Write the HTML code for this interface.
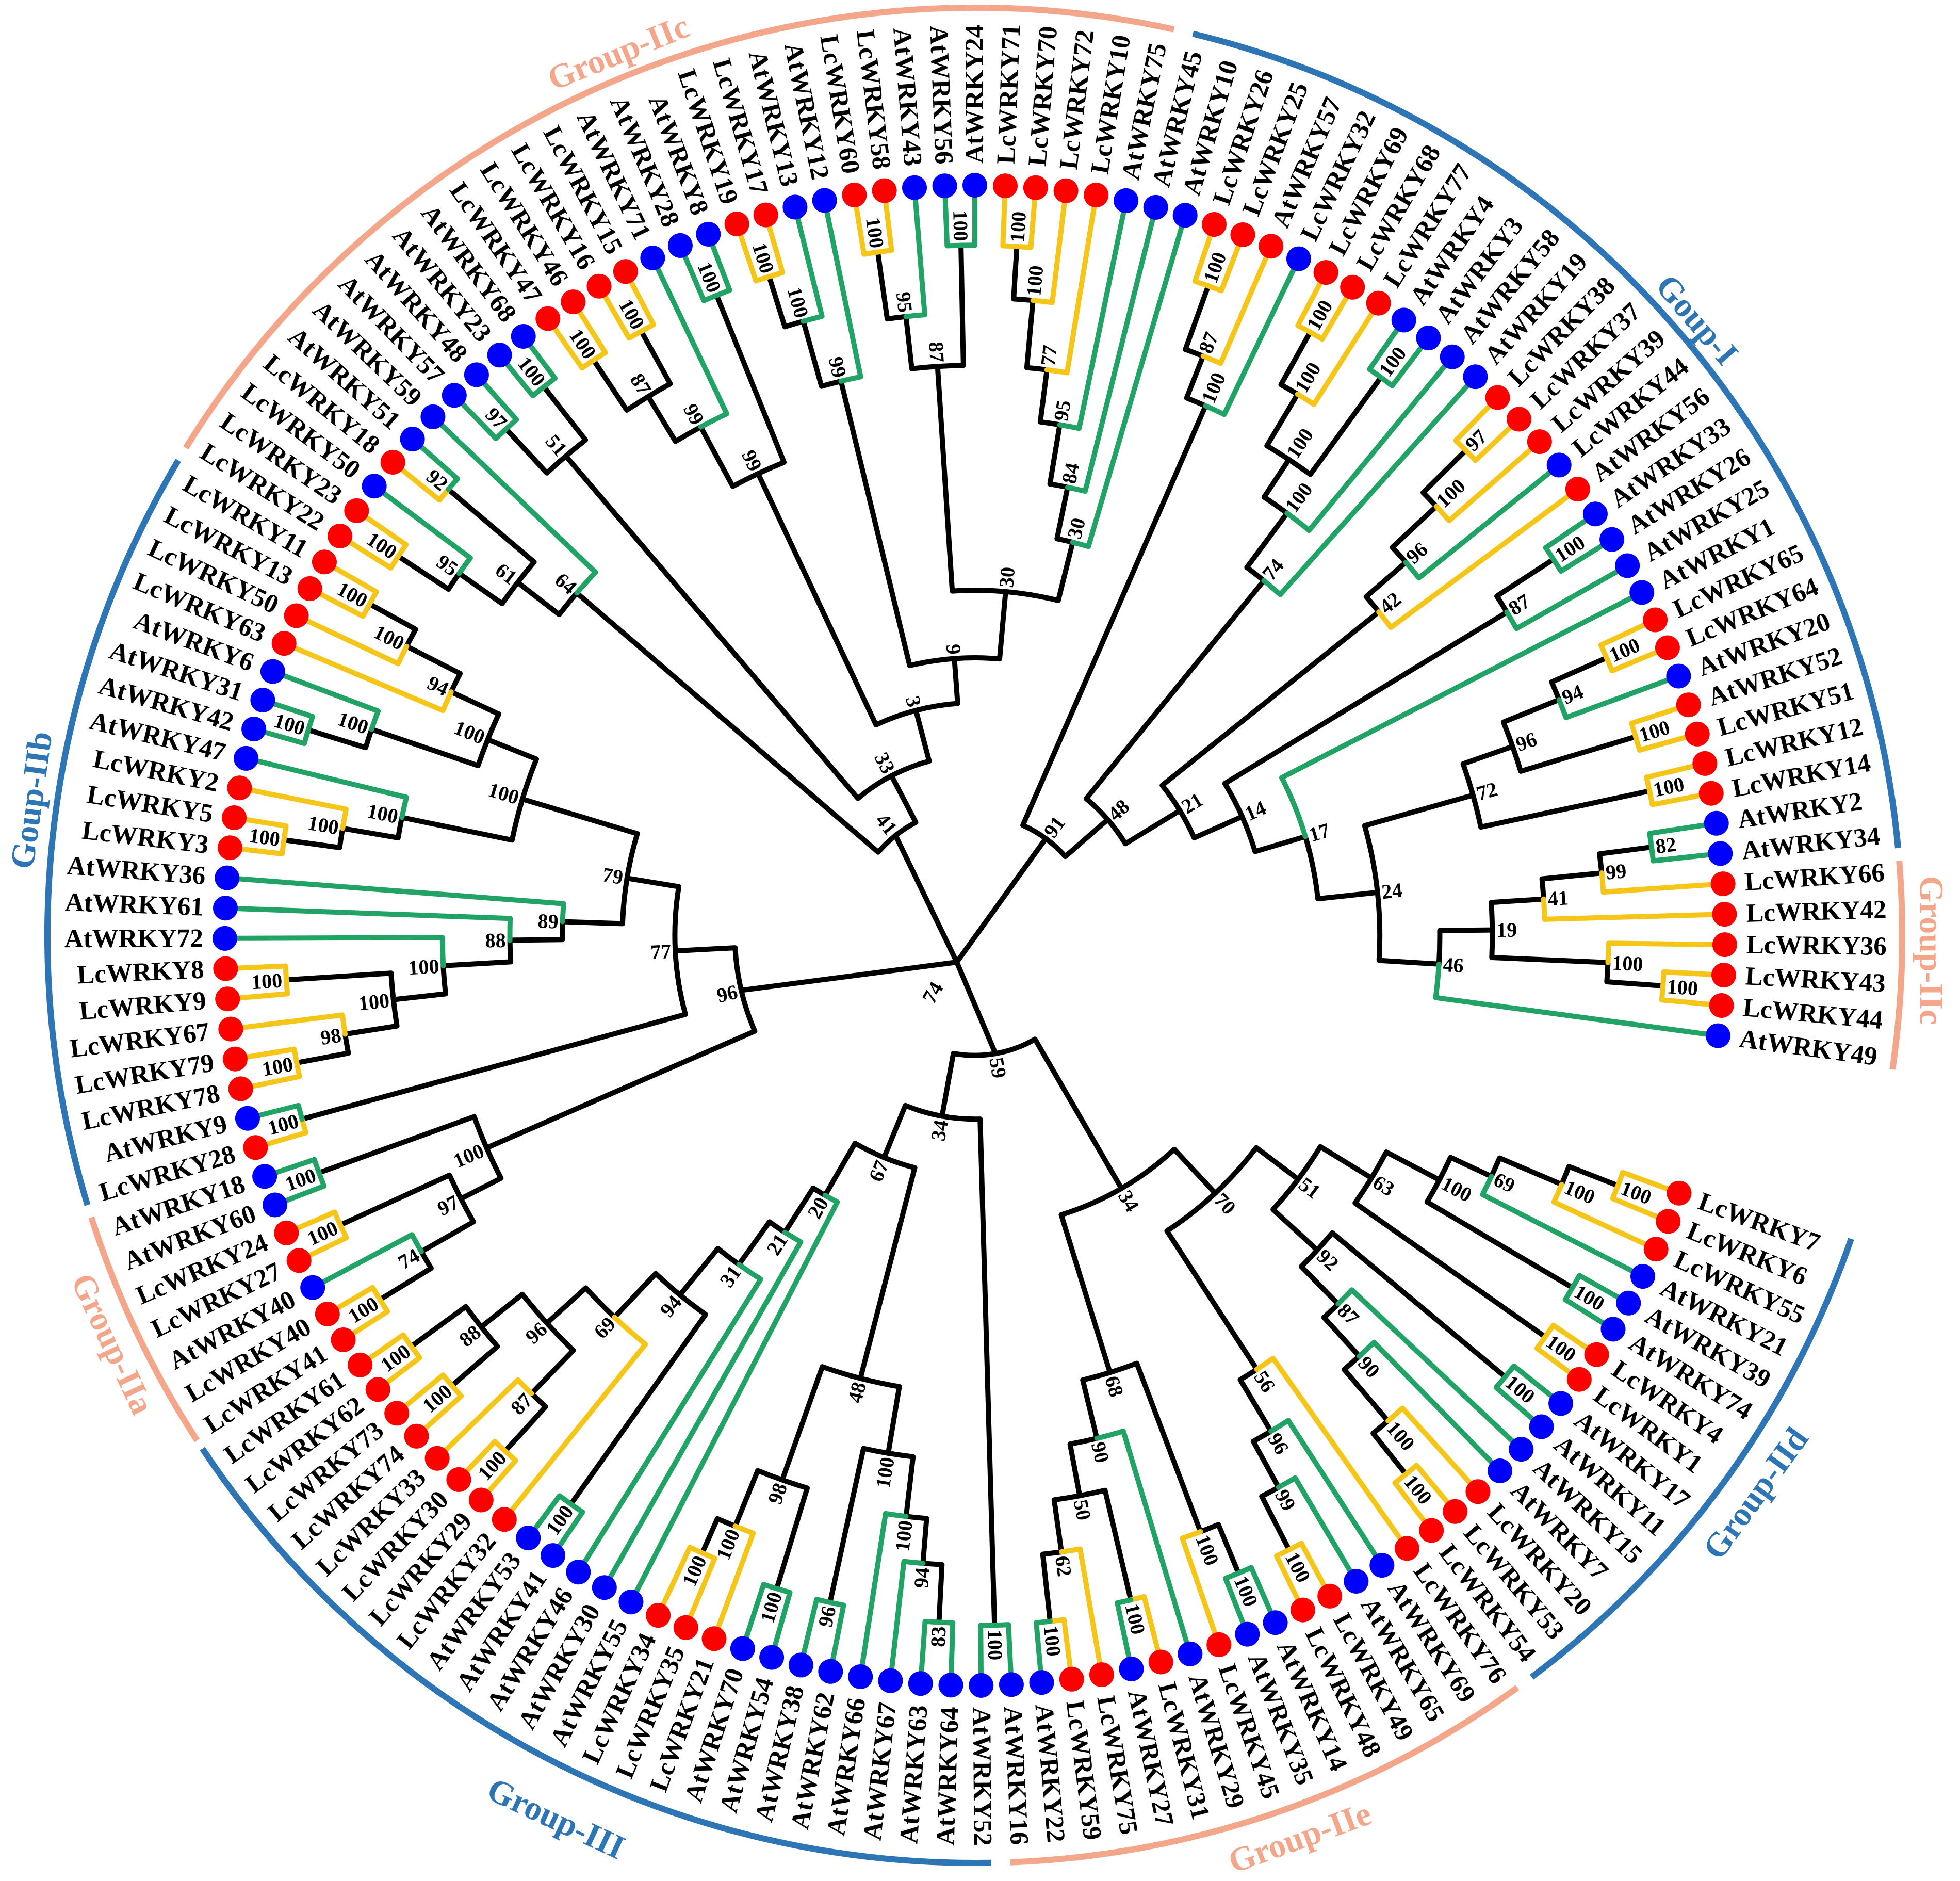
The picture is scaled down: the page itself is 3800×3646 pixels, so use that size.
<!DOCTYPE html>
<html><head><meta charset="utf-8">
<style>
html,body{margin:0;padding:0;background:#fff;}
svg{display:block;}
text{font-family:"Liberation Serif",serif;font-weight:bold;}
</style></head>
<body>
<svg id="s" xmlns="http://www.w3.org/2000/svg" width="3800" height="3646" viewBox="0 0 3800 3646">
<rect width="3800" height="3646" fill="#fff"/>
<g id="arcs" fill="none" stroke-width="12"></g>
<g id="tree" fill="none" stroke-width="10" stroke-linecap="round" stroke-linejoin="round"></g>
<g id="dots"></g>
<g id="blabels" font-size="40" fill="#000"></g>
<g id="llabels" font-size="51" fill="#000"></g>
<g id="glabels" font-size="66">
<text transform="translate(1199,102) rotate(-22)" text-anchor="middle" dominant-baseline="central" fill="#f4a68a">Group-IIc</text>
<text transform="translate(3290,620) rotate(49.5)" text-anchor="middle" dominant-baseline="central" fill="#2e75b6">Goup-I</text>
<text transform="translate(3744,1842) rotate(90)" text-anchor="middle" dominant-baseline="central" fill="#f4a68a">Group-IIc</text>
<text transform="translate(3404,2895) rotate(-54)" text-anchor="middle" dominant-baseline="central" fill="#2e75b6">Group-IId</text>
<text transform="translate(2520,3562) rotate(-20)" text-anchor="middle" dominant-baseline="central" fill="#f4a68a">Group-IIe</text>
<text transform="translate(1078,3525) rotate(25)" text-anchor="middle" dominant-baseline="central" fill="#2e75b6">Group-III</text>
<text transform="translate(218,2605) rotate(65)" text-anchor="middle" dominant-baseline="central" fill="#f4a68a">Group-IIa</text>
<text transform="translate(61,1551) rotate(-82)" text-anchor="middle" dominant-baseline="central" fill="#2e75b6">Goup-IIb</text>
<text transform="translate(1808,1924) rotate(-60)" text-anchor="middle" dominant-baseline="central" font-size="40" fill="#000">74</text>
</g>
</svg>
<script>
(function(){
const CX=1890,CY=1813,R=1454,YEL="#f5c518",GRN="#21a366";
const names=["LcWRKY7","LcWRKY6","LcWRKY55","AtWRKY21","AtWRKY39","AtWRKY74","LcWRKY4","LcWRKY1","AtWRKY17","AtWRKY11","AtWRKY15","AtWRKY7","LcWRKY20","LcWRKY53","LcWRKY54","LcWRKY76","AtWRKY69","AtWRKY65","LcWRKY49","LcWRKY48","AtWRKY14","AtWRKY35","LcWRKY45","AtWRKY29","LcWRKY31","AtWRKY27","LcWRKY75","LcWRKY59","AtWRKY22","AtWRKY16","AtWRKY52",
"AtWRKY64","AtWRKY63","AtWRKY67","AtWRKY66","AtWRKY62","AtWRKY38","AtWRKY54","AtWRKY70","LcWRKY21","LcWRKY35","LcWRKY34","AtWRKY55","AtWRKY30","AtWRKY46","AtWRKY41","AtWRKY53","LcWRKY32","LcWRKY29","LcWRKY30","LcWRKY33","LcWRKY74","LcWRKY73","LcWRKY62","LcWRKY61","LcWRKY41","LcWRKY40","AtWRKY40","LcWRKY27","LcWRKY24","AtWRKY60","AtWRKY18","LcWRKY28","AtWRKY9","LcWRKY78","LcWRKY79","LcWRKY67","LcWRKY9","LcWRKY8","AtWRKY72",
"AtWRKY61","AtWRKY36","LcWRKY3","LcWRKY5","LcWRKY2","AtWRKY47","AtWRKY42","AtWRKY31","AtWRKY6","LcWRKY63","LcWRKY50","LcWRKY13","LcWRKY11","LcWRKY22","LcWRKY23","LcWRKY50","LcWRKY18","AtWRKY51","AtWRKY59","AtWRKY57","AtWRKY48","AtWRKY23","AtWRKY68","LcWRKY47","LcWRKY46","LcWRKY16","LcWRKY15","AtWRKY71","AtWRKY28","AtWRKY8","LcWRKY19","LcWRKY17","AtWRKY13","AtWRKY12","LcWRKY60","LcWRKY58","AtWRKY43","AtWRKY56","AtWRKY24",
"LcWRKY71","LcWRKY70","LcWRKY72","LcWRKY10","AtWRKY75","AtWRKY45","AtWRKY10","LcWRKY26","LcWRKY25","AtWRKY57","LcWRKY32","LcWRKY69","LcWRKY68","LcWRKY77","AtWRKY4","AtWRKY3","AtWRKY58","AtWRKY19","LcWRKY38","LcWRKY37","LcWRKY39","LcWRKY44","AtWRKY56","AtWRKY33","AtWRKY26","AtWRKY25","AtWRKY1","LcWRKY65","LcWRKY64","AtWRKY20","AtWRKY52","LcWRKY51","LcWRKY12","LcWRKY14","AtWRKY2","AtWRKY34","LcWRKY66","LcWRKY42","LcWRKY36","LcWRKY43","LcWRKY44","AtWRKY49"];
const C=("RRRBBBRRBBBBRRRRBBRRBBRBRBRRBBB"+"BBBBBBBBRRRBBBBB"+"RRRRRRRR"+"RRBRRBBRBRRRRRB"+"BBRRRBBBBRRRRRRBRBBBBBBRRRRBBBRRBBRRBBB"+"RRRRBBBRRRBRRRBBBBRRRBRBBBBRRBRRRRBBRRRRRB").split("");
function A(i){return i<=107?20.1+i*2.314:270+(i-108)*2.326;}
function P(r,a){const t=a*Math.PI/180;return [CX+r*Math.cos(t),CY+r*Math.sin(t)];}
function s(p){return p[0].toFixed(1)+","+p[1].toFixed(1);}
function N(r,b,...c){return {r,b,c};}
const n69=N(.76,'69',N(.85,'100',N(.92,'100',0,1),2),3);
const n100a=N(.70,'100',n69,N(.925,'100',4,5));
const n63=N(.62,'63',n100a,N(.93,'100',6,7));
const n100b=N(.85,'100',12,N(.92,'100',13,14));
const n90=N(.76,'90',11,n100b);
const n87=N(.69,'87',10,n90);
const n92=N(.62,'92',N(.92,'100',8,9),n87);
const n51=N(.54,'51',n63,n92);
const n99=N(.84,'99',17,N(.92,'100',18,19));
const n96=N(.77,'96',16,n99);
const n56=N(.69,'56',15,n96);
const n70=N(.47,'70',n51,n56);
const ny100=N(.85,'100',N(.92,'100',20,21),22);
const n62=N(.83,'62',26,N(.92,'100',27,28));
const n50=N(.76,'50',N(.91,'100',24,25),n62);
const n90b=N(.69,'90',23,n50);
const n68=N(.61,'68',ny100,n90b);
const n34a=N(.39,'34',n70,n68);
const n94=N(.84,'94',33,N(.917,'83',31,32));
const n100c=N(.78,'100',34,n94);
const n100d=N(.70,'100',N(.91,'96',35,36),n100c);
const n100e=N(.85,'100',39,N(.90,'100',40,41));
const n98=N(.77,'98',N(.91,'100',37,38),n100e);
const n48=N(.61,'48',n100d,n98);
const n87b=N(.85,'87',N(.93,'100',48,49),50);
const n88=N(.84,'88',N(.92,'100',51,52),N(.93,'100',53,54));
const n96b=N(.77,'96',n87b,n88);
const n69b=N(.70,'69',47,n96b);
const n94b=N(.62,'94',N(.93,'100',45,46),n69b);
const n31=N(.54,'31',44,n94b);
const n21=N(.47,'21',43,n31);
const n20=N(.40,'20',42,n21);
const n67=N(.32,'67',n48,n20);
const n34b=N(.245,'34',N(.92,'100',29,30),n67);
const n59=N(.16,'59',n34a,n34b);
const n74=N(.85,'74',57,N(.93,'100',55,56));
const n97=N(.77,'97',n74,N(.93,'100',58,59));
const n100f=N(.71,'100',n97,N(.93,'100',60,61));
const n98b=N(.85,'98',66,N(.92,'100',64,65));
const n100g=N(.78,'100',n98b,N(.92,'100',67,68));
const n100h=N(.71,'100',n100g,69);
const n88b=N(.62,'88',n100h,70);
const n89=N(.55,'89',n88b,71);
const n100i=N(.855,'100',N(.93,'100',72,73),74);
const n100j=N(.78,'100',n100i,75);
const n100k=N(.85,'100',N(.93,'100',76,77),78);
const n100l=N(.85,'100',80,N(.92,'100',81,82));
const n94c=N(.77,'94',79,n100l);
const n100m=N(.70,'100',n100k,n94c);
const n100n=N(.63,'100',n100j,n100m);
const n79=N(.47,'79',n89,n100n);
const n77=N(.40,'77',N(.93,'100',62,63),n79);
const n96c=N(.32,'96',n100f,n77);
const n95=N(.84,'95',N(.92,'100',83,84),85);
const n61=N(.77,'61',n95,N(.92,'92',86,87));
const n64=N(.70,'64',n61,88);
const n51b=N(.84,'51',N(.92,'97',89,90),N(.93,'100',91,92));
const n87c=N(.84,'87',N(.92,'100',93,94),N(.92,'100',95,96));
const n99b=N(.77,'99',n87c,97);
const n99c=N(.68,'99',n99b,N(.92,'100',98,99));
const n100o=N(.85,'100',N(.92,'100',100,101),102);
const n99d=N(.76,'99',n100o,103);
const n95b=N(.83,'95',N(.92,'100',104,105),106);
const n87d=N(.76,'87',n95b,N(.92,'100',107,108));
const n100p=N(.85,'100',N(.92,'100',109,110),111);
const n77b=N(.76,'77',n100p,112);
const n95c=N(.69,'95',n77b,113);
const n84=N(.61,'84',n95c,114);
const n30=N(.54,'30',n84,115);
const n30b=N(.46,'30',n87d,n30);
const n9=N(.37,'9',n99d,n30b);
const n3=N(.31,'3',n99c,n9);
const n33=N(.24,'33',n51b,n3);
const n41=N(.17,'41',n64,n33);
const n87e=N(.83,'87',N(.92,'100',116,117),118);
const n100q=N(.77,'100',n87e,119);
const n100r=N(.84,'100',N(.92,'100',120,121),122);
const n100s=N(.76,'100',n100r,N(.92,'100',123,124));
const n100t=N(.70,'100',n100s,125);
const n74b=N(.61,'74',n100t,126);
const n100u=N(.84,'100',N(.92,'97',127,128),129);
const n96d=N(.76,'96',n100u,130);
const n42=N(.69,'42',n96d,131);
const n87f=N(.83,'87',N(.92,'100',132,133),134);
const n94d=N(.84,'94',N(.92,'100',136,137),138);
const n96e=N(.76,'96',n94d,N(.92,'100',139,140));
const n72=N(.69,'72',n96e,N(.92,'100',141,142));
const n99e=N(.84,'99',N(.91,'82',143,144),145);
const n41b=N(.76,'41',n99e,146);
const n100v=N(.845,'100',147,N(.92,'100',148,149));
const n19=N(.69,'19',n41b,n100v);
const n46=N(.62,'46',n19,150);
const n24=N(.54,'24',n72,n46);
const n17=N(.46,'17',135,n24);
const n14=N(.39,'14',n87f,n17);
const n21b=N(.32,'21',n42,n14);
const n48b=N(.235,'48',n74b,n21b);
const n91=N(.16,'91',n100q,n48b);
const roots=[n41,n91,n96c,n59];

function ang(x){return typeof x==='number'?A(x):x.a;}
function layout(n){n.c.forEach(ch=>{if(typeof ch!=='number')layout(ch);});
 const as=n.c.map(ang);n.a=(Math.min(...as)+Math.max(...as))/2;}
roots.forEach(layout);

const paths=[],bl=[];
function lab(r,a,txt){
 const p=P(r,a);let na=((a%360)+360)%360;
 const left=na>90&&na<270;
 const rot=left?na-180:na;
 return `<text transform="translate(${s(p)}) rotate(${rot.toFixed(2)})" text-anchor="${left?'end':'start'}" dominant-baseline="central">${txt}</text>`;
}
function draw(n){
 const rr=n.r*R;
 n.c.forEach(ch=>{
  const leaf=typeof ch==='number';
  const ca=leaf?A(ch):ch.a, cr=leaf?R:ch.r*R;
  const col=leaf?(C[ch]==='R'?YEL:GRN):'#000';
  const p0=P(rr,n.a),p1=P(rr,ca),p2=P(cr,ca);
  const sw=ca>n.a?1:0;
  paths.push(`<path d="M${s(p0)} A${rr.toFixed(1)} ${rr.toFixed(1)} 0 0 ${sw} ${s(p1)} L${s(p2)}" stroke="${col}"/>`);
  if(!leaf)draw(ch);
 });
 bl.push(lab(rr+8,n.a,n.b));
}
const RX=1855,RY=1865;
roots.forEach(n=>{const p=P(n.r*R,n.a);paths.push(`<path d="M${RX},${RY} L${s(p)}" stroke="#000"/>`);});
roots.forEach(draw);
paths.sort((a,b)=>(a.indexOf('#000')>=0?0:1)-(b.indexOf('#000')>=0?0:1));
document.getElementById('tree').innerHTML=paths.join('');
document.getElementById('blabels').innerHTML=bl.join('');
let d='',ll='';
for(let i=0;i<151;i++){const p=P(R,A(i));
 d+=`<circle cx="${p[0].toFixed(1)}" cy="${p[1].toFixed(1)}" r="24" fill="${C[i]==='R'?'#ff0000':'#0000ff'}"/>`;
 ll+=lab(R+42,A(i),names[i]);}
document.getElementById('dots').innerHTML=d;
document.getElementById('llabels').innerHTML=ll;
const RA=1798;
const arcs=[[211.7,282.4,'#f4a68a'],[283.6,354.6,'#2e75b6'],[355.4,368.3,'#f4a68a'],[19.1,53.1,'#2e75b6'],[54.2,87.8,'#f4a68a'],[89,146.4,'#2e75b6'],[147,162.3,'#f4a68a'],[163.1,210.8,'#2e75b6']];
let ah='';
arcs.forEach(a=>{const p0=P(RA,a[0]),p1=P(RA,a[1]);
 ah+=`<path d="M${s(p0)} A${RA} ${RA} 0 ${a[1]-a[0]>180?1:0} 1 ${s(p1)}" stroke="${a[2]}"/>`;});
document.getElementById('arcs').innerHTML=ah;
})();
</script>
</body></html>
